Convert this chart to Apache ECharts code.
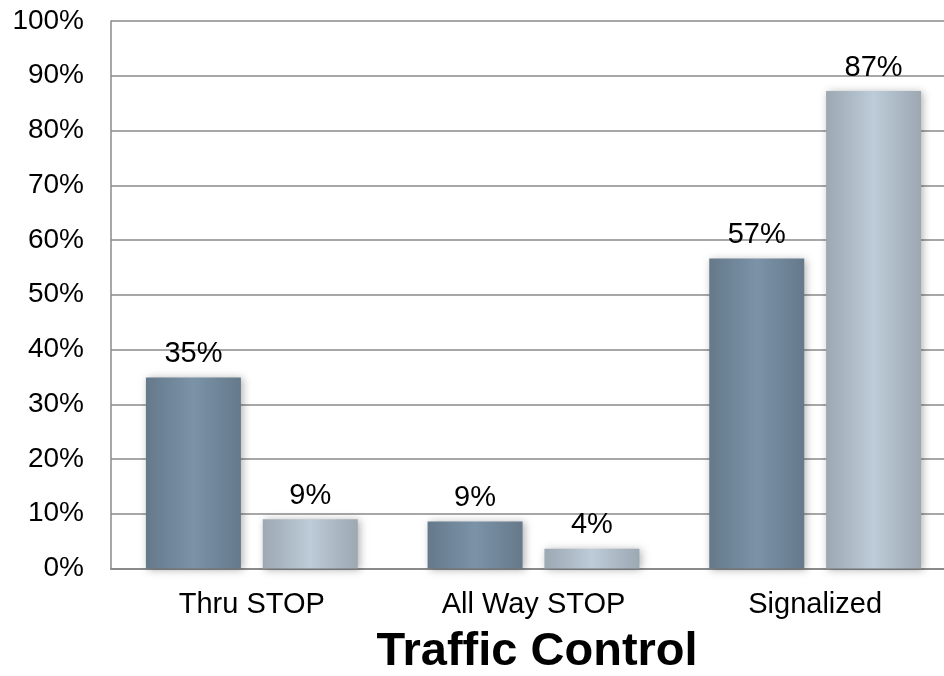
<!DOCTYPE html>
<html>
<head>
<meta charset="utf-8">
<style>
  html, body { margin: 0; padding: 0; background: #ffffff; }
  #chart { width: 944px; height: 676px; }
</style>
<script src="https://cdn.jsdelivr.net/npm/echarts@6/dist/echarts.min.js"></script>
</head>
<body>
<div id="chart"></div>
<script>
// Share of crashes by traffic control type (two groups per category)
const categories = ['Thru STOP', 'All Way STOP', 'Signalized'];
const groupA = [34.9, 8.6, 56.6];
const groupB = [9.0, 3.6, 87.2];
const yTicks = { min: 0, max: 100, interval: 10 };
const xTitle = 'Traffic Control';

const FONT = '"Liberation Sans", Arial, Helvetica, sans-serif';

function barGradient(edge, mid) {
  return new echarts.graphic.LinearGradient(0, 0, 1, 0, [
    { offset: 0, color: edge },
    { offset: 0.5, color: mid },
    { offset: 1, color: edge }
  ]);
}

const labelStyle = {
  show: true,
  position: 'top',
  distance: 9,
  color: '#000',
  fontFamily: FONT,
  fontSize: 29,
  formatter: p => Math.round(p.value) + '%'
};

const chart = echarts.init(document.getElementById('chart'), null, { renderer: 'canvas' });
chart.setOption({
  animation: false,
  backgroundColor: '#ffffff',
  // the plot runs a little past the right edge of the canvas
  grid: { left: 111, top: 21, width: 845, height: 547.5, outerBoundsMode: 'none', containLabel: false },
  title: {
    text: xTitle,
    left: 532,
    top: 624,
    textAlign: 'center',
    textStyle: { fontFamily: FONT, fontSize: 47, fontWeight: 'bold', color: '#000' }
  },
  xAxis: {
    type: 'category',
    data: categories,
    axisTick: { show: false },
    axisLine: { show: true, lineStyle: { color: '#8a8a8a', width: 2 } },
    axisLabel: { color: '#000', fontFamily: FONT, fontSize: 29, margin: 22 }
  },
  yAxis: {
    type: 'value',
    min: yTicks.min,
    max: yTicks.max,
    interval: yTicks.interval,
    axisLine: { show: true, lineStyle: { color: '#8a8a8a', width: 1.5 } },
    axisTick: { show: false },
    splitLine: { show: true, lineStyle: { color: '#8a8a8a', width: 1.5 } },
    axisLabel: { color: '#000', fontFamily: FONT, fontSize: 28, margin: 27, formatter: v => v + '%' }
  },
  series: [
    {
      type: 'bar',
      data: groupA,
      barWidth: 95,
      barGap: '23%',
      itemStyle: {
        color: barGradient('#65798a', '#7b93a8'),
        shadowBlur: 8,
        shadowColor: 'rgba(0,0,0,0.3)',
        shadowOffsetX: 2,
        shadowOffsetY: 1
      },
      label: labelStyle
    },
    {
      type: 'bar',
      data: groupB,
      barWidth: 95,
      itemStyle: {
        color: barGradient('#9ca8b2', '#bdccd9'),
        shadowBlur: 8,
        shadowColor: 'rgba(0,0,0,0.3)',
        shadowOffsetX: 2,
        shadowOffsetY: 1
      },
      label: labelStyle
    }
  ]
});
</script>
</body>
</html>
